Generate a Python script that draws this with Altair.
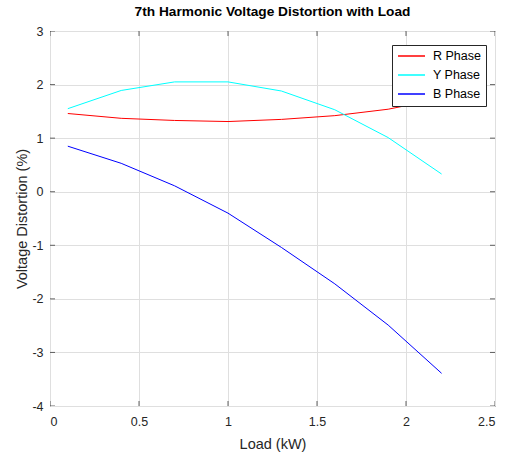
import altair as alt
import pandas as pd

load_kw = [0.1, 0.4, 0.7, 1.0, 1.3, 1.6, 1.9, 2.2]
r_phase = [1.46, 1.37, 1.33, 1.31, 1.35, 1.42, 1.54, 1.74]
y_phase = [1.55, 1.89, 2.05, 2.05, 1.88, 1.53, 1.01, 0.33]
b_phase = [0.85, 0.53, 0.11, -0.40, -1.04, -1.72, -2.49, -3.39]
series_names = ["R Phase", "Y Phase", "B Phase"]
series_colors = ["#ff0000", "#00ffff", "#0000ff"]
x_ticks = [0, 0.5, 1, 1.5, 2, 2.5]
y_ticks = [-4, -3, -2, -1, 0, 1, 2, 3]

rows = []
for name, vals in zip(series_names, [r_phase, y_phase, b_phase]):
    for i, (x, v) in enumerate(zip(load_kw, vals)):
        rows.append({"Load": x, "Distortion": v, "Phase": name, "order": i})
df = pd.DataFrame(rows)

W, H = 445, 375
FONT = "Liberation Sans"

xscale = alt.Scale(domain=[0, 2.5], nice=False, zero=False)
yscale = alt.Scale(domain=[-4, 3], nice=False, zero=False)

lines = alt.Chart(df).mark_line(strokeWidth=1, clip=True).encode(
    x=alt.X("Load:Q", scale=xscale,
            axis=alt.Axis(title="Load (kW)", values=x_ticks, labelExpr="datum.value + ''",
                          tickSize=0, labelPadding=9, titlePadding=10, domain=False,
                          grid=True)),
    y=alt.Y("Distortion:Q", scale=yscale,
            axis=alt.Axis(title="Voltage Distortion (%)", values=y_ticks, labelExpr="datum.value + ''",
                          tickSize=0, labelPadding=7, titlePadding=2, domain=False,
                          grid=True)),
    color=alt.Color("Phase:N", scale=alt.Scale(domain=series_names, range=series_colors),
                    legend=alt.Legend(title=None, orient="none", legendX=342, legendY=14,
                                      symbolType="stroke", symbolSize=729, symbolStrokeWidth=1.3,
                                      symbolOpacity=1,
                                      labelFontSize=12.5, labelFont=FONT, labelColor="#000000",
                                      strokeColor="#262626", fillColor="white", padding=5,
                                      clipHeight=12, rowPadding=6, labelOffset=7)),
    order="order:Q",
)

xt = pd.DataFrame({"t": x_ticks})
yt = pd.DataFrame({"t": y_ticks})
xtick_bottom = alt.Chart(xt).mark_tick(clip=True, size=10, thickness=1, color="#262626").encode(
    x=alt.X("t:Q", scale=xscale), y=alt.value(H))
xtick_top = alt.Chart(xt).mark_tick(clip=True, size=10, thickness=1, color="#262626").encode(
    x=alt.X("t:Q", scale=xscale), y=alt.value(0))
ytick_left = alt.Chart(yt).mark_tick(clip=True, size=10, thickness=1, color="#262626").encode(
    y=alt.Y("t:Q", scale=yscale), x=alt.value(0))
ytick_right = alt.Chart(yt).mark_tick(clip=True, size=10, thickness=1, color="#262626").encode(
    y=alt.Y("t:Q", scale=yscale), x=alt.value(W))

chart = alt.layer(lines, xtick_bottom, xtick_top, ytick_left, ytick_right).properties(
    width=W, height=H,
    background="white",
    title=alt.Title("7th Harmonic Voltage Distortion with Load", font=FONT, fontSize=13.7,
                    fontWeight="bold", color="#000000", anchor="middle", offset=6),
    autosize=alt.AutoSizeParams(type="none"),
    padding={"left": 50, "top": 31, "right": 10, "bottom": 51},
).configure_view(stroke="#262626", strokeWidth=1).configure_axis(
    labelFont=FONT, labelFontSize=12.5, labelColor="#262626",
    titleFont=FONT, titleFontSize=14.5, titleFontWeight="normal", titleColor="#262626",
    gridColor="#dfdfdf", gridWidth=1,
)

chart.save("out.html", embed_options={"renderer": "svg", "actions": False})
